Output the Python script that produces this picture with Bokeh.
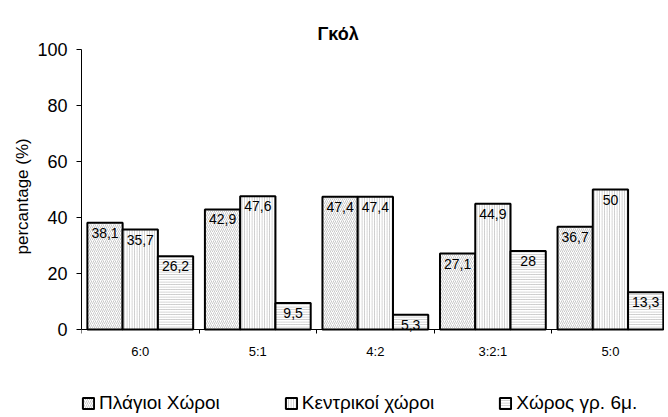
from bokeh.plotting import figure
from bokeh.models import ColumnDataSource, FixedTicker, Legend, LegendItem, Range1d, Title
from bokeh.core.properties import value
from bokeh.embed import file_html
from bokeh.resources import INLINE

title_text = "Γκόλ"
y_label = "percantage (%)"
categories = ["6:0", "5:1", "4:2", "3:2:1", "5:0"]
series_names = ["Πλάγιοι Χώροι", "Κεντρικοί χώροι", "Χώρος γρ. 6μ."]
plagioi = [38.1, 42.9, 47.4, 27.1, 36.7]
kentrikoi = [35.7, 47.6, 47.4, 44.9, 50]
choros = [26.2, 9.5, 5.3, 28, 13.3]
y_ticks = [0, 20, 40, 60, 80, 100]

FONT = "Liberation Sans"

# frame: 0..100 spans 280px; extra room below 0 holds the axis labels and the legend
TOP, H, W, LEFT = 49, 414, 664, 81
px_per_unit = 2.8
y_low = -(H - TOP - 100 * px_per_unit) / px_per_unit
x_high = 4.96

p = figure(width=W, height=H, output_backend="svg", toolbar_location=None,
           x_range=Range1d(0, x_high), y_range=Range1d(y_low, 100),
           min_border_left=LEFT, min_border_right=0, min_border_top=TOP, min_border_bottom=0)
p.outline_line_color = None
p.grid.visible = False

p.title.text = title_text
p.title.align = "left"
p.title.offset = 236
p.title.text_font = FONT
p.title.text_font_size = "18px"
p.title.text_font_style = "bold"
p.title.text_color = "black"
p.title.standoff = 12

series = [plagioi, kentrikoi, choros]
hatches = ["/", "|", "-"]
scales = [4, 2.5, 2.5]
offsets = [-0.3, 0.0, 0.3]
renderers = []
for vals, h, sc, off in zip(series, hatches, scales, offsets):
    xs = [i + 0.5 + off for i in range(len(categories))]
    labels = [f"{v:g}".replace(".", ",") for v in vals]
    src = ColumnDataSource(dict(x=xs, top=vals, lab=labels))
    r = p.vbar(x="x", top="top", width=0.3, source=src, fill_color="white",
               line_color="black", line_width=2, hatch_pattern=h, hatch_scale=sc,
               hatch_color="#b0b0b0", hatch_weight=0.7)
    renderers.append(r)
    p.text(x="x", y="top", text="lab", source=src, text_align="center",
           text_baseline="top", y_offset=5, text_font=value(FONT),
           text_font_size="14px", text_color="black")

# y axis, limited to 0..100
p.yaxis.ticker = FixedTicker(ticks=y_ticks)
p.yaxis.bounds = (0, 100)
p.yaxis.major_tick_out = 5
p.yaxis.major_tick_in = 0
p.yaxis.minor_tick_out = 0
p.yaxis.minor_tick_in = 0
p.yaxis.major_label_text_font = FONT
p.yaxis.major_label_text_font_size = "18px"
p.yaxis.major_label_text_color = "black"
p.yaxis.major_label_standoff = 9
p.yaxis.axis_line_color = "black"
p.yaxis.major_tick_line_color = "black"

# y axis title, centred on the 0..100 part of the axis
ytitle = Title(text=y_label, align="left", offset=160, text_font=FONT,
               text_font_size="17px", text_font_style="normal", text_color="black",
               standoff=6)
p.add_layout(ytitle, "left")

# x axis drawn at y = 0
centers = [i + 0.5 for i in range(len(categories))]
bounds = [float(i) for i in range(len(categories) + 1)]
p.xaxis.fixed_location = 0
p.xaxis.ticker = FixedTicker(ticks=centers, minor_ticks=bounds)
p.xaxis.major_label_overrides = {c: lab for c, lab in zip(centers, categories)}
p.xaxis.major_tick_out = 0
p.xaxis.major_tick_in = 0
p.xaxis.minor_tick_out = 4
p.xaxis.minor_tick_in = 0
p.xaxis.minor_tick_line_color = "black"
p.xaxis.major_label_text_font = FONT
p.xaxis.major_label_text_font_size = "13px"
p.xaxis.major_label_text_color = "black"
p.xaxis.major_label_standoff = 10
p.xaxis.axis_line_color = "black"

legend = Legend(items=[LegendItem(label=n, renderers=[r]) for n, r in zip(series_names, renderers)],
                orientation="horizontal", location=(0, 0))
legend.border_line_color = None
legend.background_fill_alpha = 0
legend.padding = 0
legend.margin = 0
legend.spacing = 64
legend.glyph_width = 14
legend.glyph_height = 14
legend.label_standoff = 4
legend.label_text_font = FONT
legend.label_text_font_size = "19px"
legend.label_text_color = "black"
p.add_layout(legend)

open("out.html", "w").write(file_html(p, INLINE))
